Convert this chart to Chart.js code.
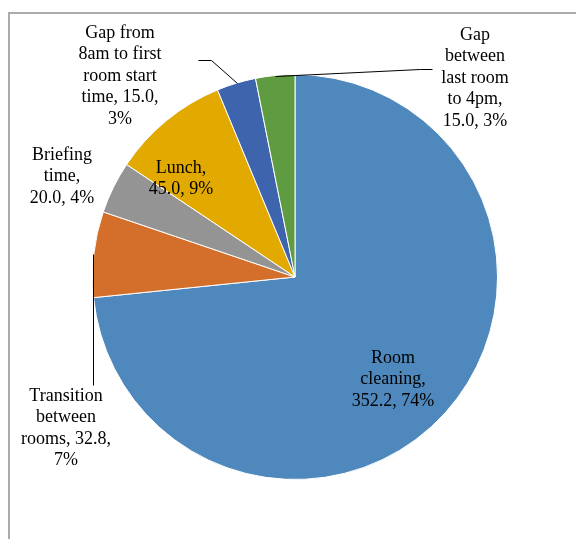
<!DOCTYPE html>
<html>
<head>
<meta charset="utf-8">
<script src="https://cdn.jsdelivr.net/npm/chart.js@4/dist/chart.umd.min.js"></script>
<style>
  html, body { margin: 0; padding: 0; background: #fff; }
  #wrap { position: relative; width: 576px; height: 539px; overflow: hidden; }
  #frame { position: absolute; left: 8px; top: 12px; width: 700px; height: 700px; border: 2px solid #ababab; box-sizing: border-box; }
  canvas { position: absolute; left: 0; top: 0; }
</style>
</head>
<body>
<div id="wrap">
  <div id="frame"></div>
  <canvas id="c" width="576" height="539"></canvas>
</div>
<script>
// Minutes per shift, clockwise from 12 o'clock (same order as the reference pie)
const categories = [
  'Room cleaning',
  'Transition between rooms',
  'Briefing time',
  'Lunch',
  'Gap from 8am to first room start time',
  'Gap between last room to 4pm',
];
const minutes = [352.2, 32.8, 20.0, 45.0, 15.0, 15.0];
const percentLabels = ['74%', '7%', '4%', '9%', '3%', '3%'];
const sliceColors = ['#4f88bd', '#d36f2b', '#949494', '#e2aa00', '#3d64ac', '#5f9b41'];

// Data label text, wrapped the way the reference wraps it
const labelLines = [
  ['Room', 'cleaning,', '352.2, 74%'],
  ['Transition', 'between', 'rooms, 32.8,', '7%'],
  ['Briefing', 'time,', '20.0, 4%'],
  ['Lunch,', '45.0, 9%'],
  ['Gap from', '8am to first', 'room start', 'time, 15.0,', '3%'],
  ['Gap', 'between', 'last room', 'to 4pm,', '15.0, 3%'],
];

// Label placement (centre x, first baseline-centre y) and leader lines, in canvas px
const labelLayout = [
  { x: 393, y: 358 },
  { x: 66, y: 396 },
  { x: 62, y: 155 },
  { x: 181, y: 168 },
  { x: 120, y: 33 },
  { x: 475, y: 35 },
];
const leaders = [
  null,
  [[93, 254], [93, 385]],
  null,
  null,
  [[198, 60], [211, 60], [237, 83]],
  [[275, 76], [420, 69], [432, 69]],
];

const LINE_H = 21.5;

const dataLabels = {
  id: 'dataLabels',
  afterDatasetsDraw(chart) {
    const ctx = chart.ctx;
    ctx.save();
    ctx.strokeStyle = '#000';
    ctx.lineWidth = 1;
    leaders.forEach((pts) => {
      if (!pts) return;
      ctx.beginPath();
      pts.forEach(([x, y], i) => (i ? ctx.lineTo(x + 0.5, y + 0.5) : ctx.moveTo(x + 0.5, y + 0.5)));
      ctx.stroke();
    });
    ctx.fillStyle = '#000';
    ctx.font = '18px "Liberation Serif", "Times New Roman", serif';
    ctx.textAlign = 'center';
    ctx.textBaseline = 'middle';
    labelLines.forEach((lines, i) => {
      const { x, y } = labelLayout[i];
      lines.forEach((t, j) => ctx.fillText(t, x, y + j * LINE_H));
    });
    ctx.restore();
  },
};

new Chart(document.getElementById('c'), {
  type: 'pie',
  data: {
    labels: categories,
    datasets: [{
      data: minutes,
      backgroundColor: sliceColors,
      borderColor: '#ffffff',
      borderWidth: 1,
    }],
  },
  options: {
    responsive: false,
    animation: false,
    layout: { padding: { left: 92, right: 78, top: 73, bottom: 58 } },
    plugins: { legend: { display: false }, tooltip: { enabled: false } },
  },
  plugins: [dataLabels],
});
</script>
</body>
</html>
